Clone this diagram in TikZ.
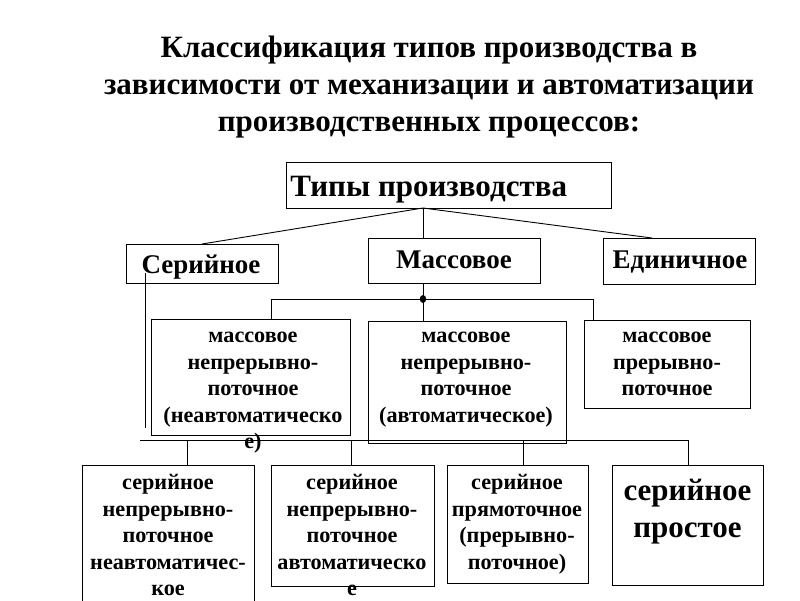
\documentclass[tikz,border=0pt]{standalone}
\usepackage{fontspec}
\setmainfont{Liberation Serif}
\begin{document}
\begin{tikzpicture}[x=1pt,y=-1pt,
  line width=0.9pt,
  box/.style={draw, line width=0.9pt, inner sep=0, outer sep=0, anchor=north west},
  txt/.style={inner sep=0, outer sep=0, align=center, anchor=north},
  fT/.style={font=\bfseries\fontsize{31}{37}\selectfont},
  fB/.style={font=\bfseries\fontsize{22.2}{26.5}\selectfont},
  fL/.style={font=\bfseries\fontsize{27}{31}\selectfont},
  fD/.style={font=\bfseries\fontsize{31}{37}\selectfont}]
\useasboundingbox (0,0) rectangle (800,600);
\clip (0,0) rectangle (800,600);

% title
\node[txt, fT] (title) at (429,{57-0.7*37}) {\strut Классификация типов производства в\\зависимости от механизации и автоматизации\\производственных процессов:};

% top box
\node[box, minimum width=325, minimum height=46] (top) at (286,162) {};
\node[inner sep=0, anchor=base west, font=\bfseries\fontsize{31}{36}\selectfont] (toptxt) at (290,196) {Типы производства};

% level 1
\node[box, minimum width=152, minimum height=39] (ser) at (126,244) {};
\node[inner sep=0, anchor=base, fL] (sertxt) at (201,273) {Серийное};
\node[box, minimum width=172, minimum height=45] (mass) at (368,238) {};
\node[inner sep=0, anchor=base, fL] (masstxt) at (454,268) {Массовое};
\node[box, minimum width=152, minimum height=46] (edin) at (603,238) {};
\node[inner sep=0, anchor=base, fL] (edintxt) at (680,268) {Единичное};

% level 2 (massovoe)
\node[box, minimum width=199, minimum height=116] (m1) at (151,319) {};
\node[txt, fB] (m1txt) at (253,{342.5-0.7*26.5}) {\strut массовое\\непрерывно-\\поточное\\(неавтоматическо\\е)};
\node[box, minimum width=198, minimum height=122] (m2) at (368,321) {};
\node[txt, fB] (m2txt) at (466,{342.5-0.7*26.5}) {\strut массовое\\непрерывно-\\поточное\\(автоматическое)};
\node[box, minimum width=166, minimum height=88] (m3) at (584,320) {};
\node[txt, fB] (m3txt) at (667,{342.5-0.7*26.5}) {\strut массовое\\прерывно-\\поточное};

% level 3 (seriynoe)
\node[box, minimum width=172, minimum height=150] (s1) at (82,465) {};
\node[txt, fB] (s1txt) at (168,{489.5-0.7*26.5}) {\strut серийное\\непрерывно-\\поточное\\неавтоматичес-\\кое};
\node[box, minimum width=163, minimum height=121] (s2) at (271,465) {};
\node[txt, fB] (s2txt) at (352,{489.5-0.7*26.5}) {\strut серийное\\непрерывно-\\поточное\\автоматическо\\е};
\node[box, minimum width=141, minimum height=118] (s3) at (447,465) {};
\node[txt, fB] (s3txt) at (517,{489.5-0.7*26.5}) {\strut серийное\\прямоточное\\(прерывно-\\поточное)};
\node[box, minimum width=151, minimum height=120] (s4) at (612,465) {};
\node[txt, fD] (s4txt) at (687.5,{500-0.7*37}) {\strut серийное\\простое};

% junction coordinates
\coordinate (tj) at (423,208);
\coordinate (ej) at (652,238);
\coordinate (dot) at (423,299);
\coordinate (bl) at (271,299);
\coordinate (br) at (593,299);
\coordinate (sv1) at (145,273);
\coordinate (sv2) at (145,428);
\coordinate (hl) at (140,440);
\coordinate (hr) at (688,440);
\coordinate (d1) at (187,440);
\coordinate (d2) at (351,440);
\coordinate (d3) at (523,440);

% connectors level 0 -> 1
\draw (tj) -- (ser.north);
\draw (tj) -- (tj |- mass.north);
\draw (tj) -- (ej);

% massovoe -> subtypes
\draw (dot |- mass.south) -- (dot |- m2.north);
\draw (bl |- m1.north) -- (bl) -- (br) -- (br |- m3.north);
\fill (dot) ellipse (3.2 and 4);

% seriynoe -> subtypes
\draw (sv1) -- (sv2);
\draw (hl) -- (hr);
\draw (d1) -- (d1 |- s1.north);
\draw (d2) -- (d2 |- s2.north);
\draw (d3) -- (d3 |- s3.north);
\draw (hr) -- (hr |- s4.north);
\end{tikzpicture}
\end{document}
